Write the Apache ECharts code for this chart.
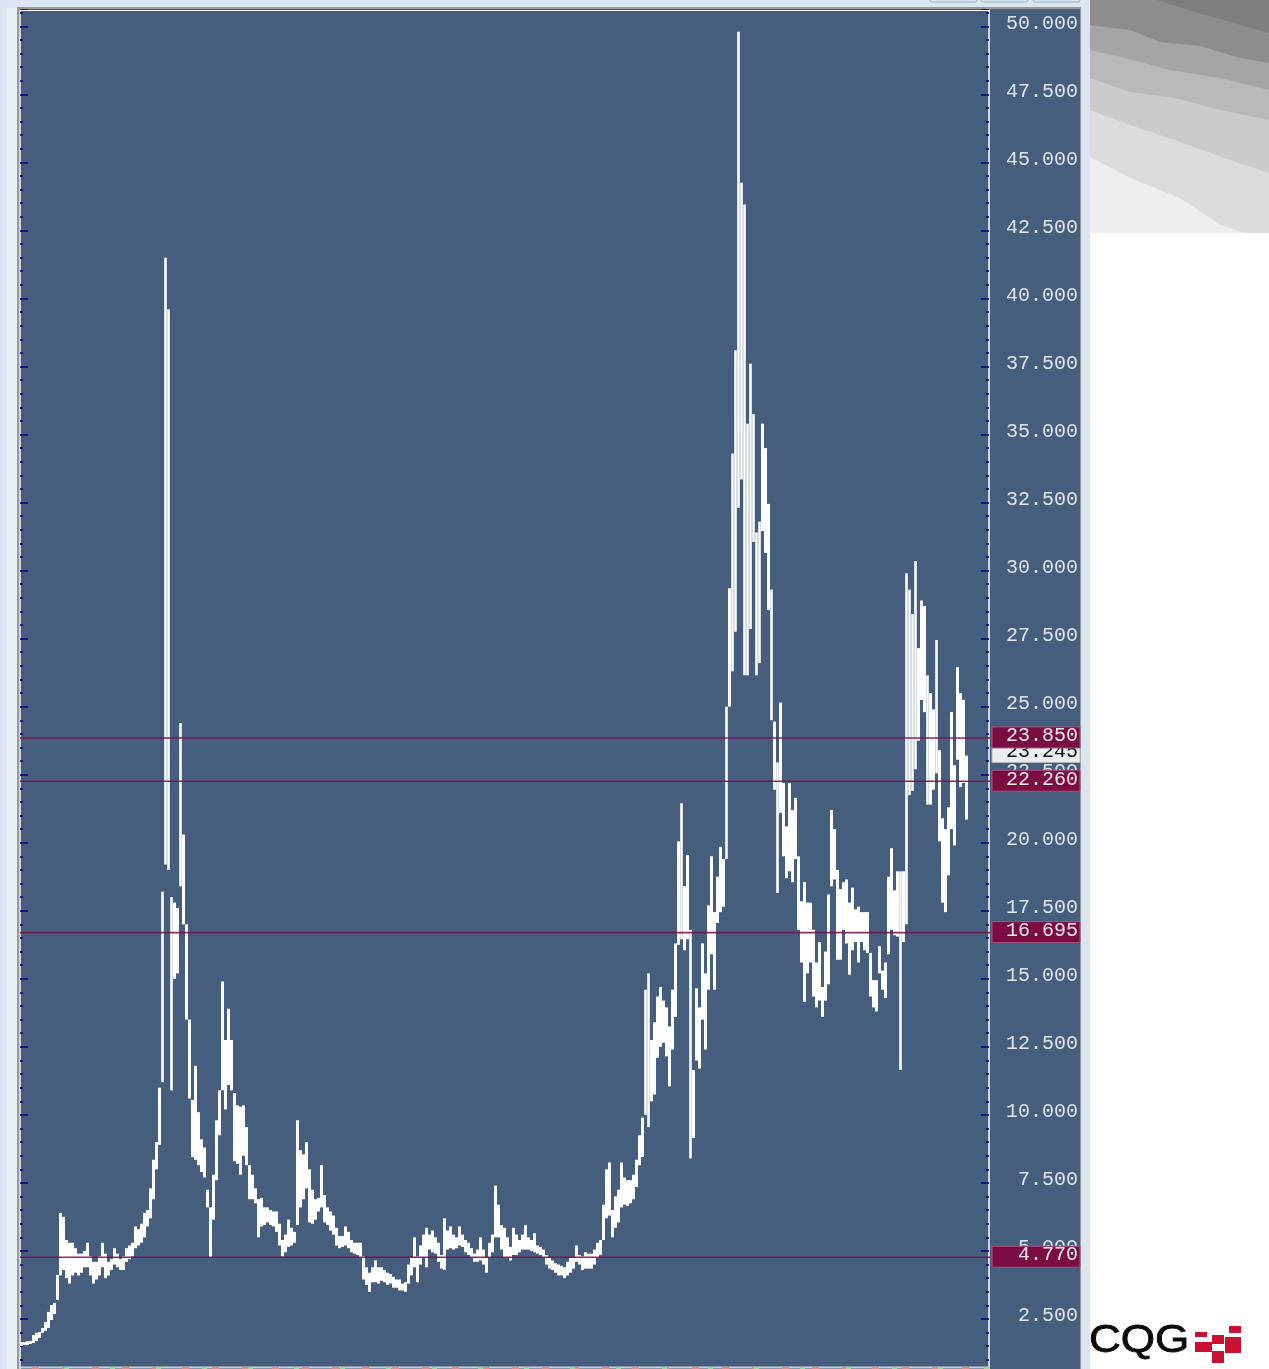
<!DOCTYPE html>
<html>
<head>
<meta charset="utf-8">
<script src="https://cdn.jsdelivr.net/npm/echarts@6/dist/echarts.min.js"></script>
<style>html,body{margin:0;padding:0;background:#fff;overflow:hidden}#c{width:1269px;height:1369px}</style>
</head>
<body>
<div id="c"></div>
<script>
const highs = [
1.65,1.65,1.69,1.69,1.91,1.99,2.02,2.17,2.39,2.76,3.01,3.09,4.12,6.4,6.25,5.4,5.3,5.3,5.1,4.9,4.9,5.0,5.3,4.8,4.6,4.6,4.8,5.3,4.9,4.6,4.7,5.1,4.9,4.7,4.8,5.1,5.2,5.3,5.9,5.8,6.0,6.4,6.5,7.3,
8.35,9.0,11.0,18.2,41.5,39.6,18.0,17.8,17.6,24.4,20.3,17.0,13.5,10.55,11.8,10.1,9.1,8.8,7.25,6.6,7.8,9.8,10.9,14.9,12.75,13.9,12.75,10.8,
10.35,10.3,10.35,9.55,8.15,7.8,7.3,6.9,6.95,6.6,6.6,6.5,6.45,6.45,6.0,5.4,5.6,6.15,5.85,5.7,9.8,8.7,8.55,9.0,8.0,7.25,6.9,6.95,8.15,7.05,6.6,6.45,6.3,5.85,5.55,5.55,5.9,5.7,5.4,5.3,5.3,5.3,4.8,4.4,4.2,4.4,4.65,4.4,4.4,4.3,4.2,4.15,4.05,3.95,3.95,3.8,3.85,4.5,
4.75,5.5,4.8,5.2,5.6,5.85,5.6,5.75,5.5,5.3,4.85,6.2,5.75,5.9,5.6,5.5,5.9,5.6,5.4,5.3,5.1,4.9,5.05,5.5,5.05,4.75,5.3,5.6,7.4,6.7,5.95,5.85,5.5,5.15,5.85,5.6,5.4,5.6,5.95,5.5,5.4,5.65,5.2,5.15,5.05,4.85,4.75,4.65,4.55,4.5,4.45,4.4,4.6,4.75,4.75,5.2,4.85,4.8,4.95,4.9,4.9,5.05,5.3,5.4,6.7,8.0,8.25,6.5,7.0,7.25,8.25,7.7,7.6,7.6,7.8,8.35,9.25,
9.9,14.6,15.2,12.75,13.4,14.35,14.7,14.2,13.95,13.25,14.6,16.3,20.05,21.45,18.4,19.55,16.8,11.65,14.65,13.95,16.3,15.2,17.7,19.5,17.45,18.75,19.85,19.4,25.0,
29.35,34.3,38.1,49.8,44.25,43.45,35.4,37.6,35.75,31.4,31.8,35.4,34.5,32.45,29.3,
24.45,22.95,25.15,22.2,20.6,22.2,21.2,21.65,19.5,17.85,18.55,17.8,17.8,16.8,15.6,16.35,14.7,16.0,18.1,21.2,20.5,19.0,18.3,18.55,18.65,17.8,18.35,17.55,17.65,17.45,17.45,17.45,15.95,14.95,14.95,16.2,15.3,15.6,18.75,19.8,18.25,18.95,18.95,
18.95,29.9,29.3,28.4,30.35,27.15,28.9,28.7,26.15,25.5,24.9,27.45,23.4,20.9,20.5,21.3,24.8,22.85,26.45,25.5,25.25,23.2
];
const lows = [
1.51,1.54,1.54,1.58,1.62,1.69,1.8,1.99,2.06,2.17,2.46,2.68,3.2,4.1,4.3,4.0,3.8,4.1,4.2,4.1,4.2,4.4,4.4,4.1,3.8,3.95,4.1,4.4,4.0,4.1,4.3,4.5,4.4,4.3,4.3,4.6,4.7,4.8,5.1,5.2,5.3,5.5,5.9,6.2,
6.9,8.0,8.9,11.2,19.2,19.0,10.9,15.0,15.2,18.4,17.0,13.5,10.6,8.45,8.35,8.15,7.9,7.7,6.6,4.77,6.15,7.6,9.25,10.9,10.2,11.1,10.9,8.3,
8.2,7.8,8.5,8.15,6.9,6.9,6.75,5.5,5.9,5.95,6.05,5.95,5.9,5.7,5.2,4.8,4.95,5.15,5.2,5.3,5.95,6.6,6.9,7.3,6.05,6.0,6.15,6.45,6.6,6.05,5.95,5.75,5.6,5.2,5.1,5.15,5.2,5.1,4.95,4.9,4.85,4.75,3.95,3.75,3.5,3.85,3.85,3.8,3.9,3.85,3.75,3.8,3.65,3.65,3.55,3.55,3.5,3.8,
4.1,4.4,3.85,4.5,4.75,4.4,5.05,4.95,4.9,4.6,4.35,4.3,5.05,5.1,5.05,5.1,5.2,5.15,4.95,4.85,4.75,4.6,4.6,4.65,4.5,4.2,4.75,4.95,5.5,5.5,5.05,4.75,4.75,4.65,4.85,4.85,4.95,5.05,5.05,5.05,5.0,4.95,4.9,4.85,4.75,4.5,4.35,4.3,4.2,4.1,4.1,4.0,4.1,4.2,4.35,4.6,4.5,4.3,4.35,4.35,4.35,4.5,4.75,4.85,5.4,6.2,6.3,5.5,5.85,6.05,6.6,6.7,6.65,6.75,6.9,7.35,8.15,
8.45,10.0,9.55,10.5,10.75,12.1,12.5,12.65,12.15,11.05,12.4,13.6,16.25,16.45,16.05,16.45,8.4,9.15,12.0,11.7,13.5,12.4,14.6,15.9,14.6,17.05,17.45,17.65,19.4,
25.0,26.3,27.75,32.3,33.35,26.15,26.15,27.85,31.05,26.15,26.6,31.45,30.65,28.55,24.5,
21.95,18.15,21.1,19.5,18.7,18.95,18.55,19.4,16.8,15.6,14.15,15.2,15.6,14.35,13.95,14.2,13.6,14.2,14.8,18.4,18.65,15.7,15.7,16.8,16.3,15.15,16.05,16.35,15.6,16.35,16.05,15.95,14.35,13.95,13.8,15.2,14.6,14.3,15.9,16.8,16.6,16.55,11.65,
16.35,17.0,21.75,21.9,22.7,23.75,25.25,24.8,21.4,21.4,21.95,22.55,20.05,17.8,17.45,18.8,20.5,19.9,23.05,22.05,22.2,20.85
];
const levels = [4.77, 16.695, 22.26, 23.85];
const lastPrice = 23.245;
const slotCount = 323;

const categories = [];
for (let i = 0; i < slotCount; i++) categories.push(String(i));

const bandPolys = [
  ['#7e7e7e', [[1157,0],[1269,0],[1269,33],[1230,22],[1195,12]]],
  ['#a5a5a5', [[1090,25],[1130,30],[1160,42],[1200,46],[1240,58],[1269,63],[1269,233],[1090,233]]],
  ['#b9b9b9', [[1090,50],[1125,58],[1170,70],[1220,78],[1269,90],[1269,233],[1090,233]]],
  ['#cbcbcb', [[1090,78],[1130,92],[1175,98],[1220,110],[1269,120],[1269,233],[1090,233]]],
  ['#dcdcdc', [[1090,110],[1130,125],[1180,142],[1230,160],[1269,173],[1269,233],[1090,233]]],
  ['#eeeeee', [[1090,157],[1130,178],[1180,198],[1220,225],[1245,233],[1090,233]]]
];
const logoRects = [[1195,1332,12,5],[1195,1342,17,10],[1212,1335,12,9],[1212,1351,12,12],[1229,1326,12,7],[1225,1337,16,16]];

const graphics = [
  {type:'rect',shape:{x:0,y:0,width:7,height:1369},style:{fill:'#d9e5f1'},z:-20},
  {type:'rect',shape:{x:7,y:0,width:10,height:1369},style:{fill:'#e9f0f7'},z:-20},
  {type:'rect',shape:{x:7,y:0,width:1083,height:8},style:{fill:'#dbe6f2'},z:-20},
  {type:'rect',shape:{x:1081,y:0,width:9,height:1369},style:{fill:'#d9e5f1'},z:-20},
  {type:'rect',shape:{x:17,y:7,width:1064,height:1362},style:{fill:'#9a9a9a'},z:-19},
  {type:'rect',shape:{x:19,y:9,width:1061,height:1360},style:{fill:'#465e7d'},z:-18},
  {type:'rect',shape:{x:930,y:-4,width:47,height:6,r:2},style:{fill:'#dde5ee',stroke:'#9fb0c2'},z:-17},
  {type:'rect',shape:{x:981,y:-4,width:47,height:6,r:2},style:{fill:'#dde5ee',stroke:'#9fb0c2'},z:-17},
  {type:'rect',shape:{x:1033,y:-4,width:47,height:6,r:2},style:{fill:'#dde5ee',stroke:'#9fb0c2'},z:-17},
  {type:'line',shape:{x1:20,y1:10.5,x2:990,y2:10.5},style:{stroke:'#ffffff',lineWidth:1},z:3},
  {type:'line',shape:{x1:20,y1:1367.5,x2:990,y2:1367.5},style:{stroke:'#c9d0d8',lineWidth:2},z:3},
  {type:'line',shape:{x1:32,y1:1368,x2:990,y2:1368},style:{stroke:'#f08a80',lineWidth:2,lineDash:[7,23]},z:4},
  {type:'line',shape:{x1:64,y1:1368,x2:990,y2:1368},style:{stroke:'#8fe58f',lineWidth:2,lineDash:[5,41]},z:4},
  {type:'text',x:1089,y:1342,scaleX:1.16,style:{text:'CQG',fill:'#0a0a0a',stroke:'#0a0a0a',lineWidth:0.8,font:'38px "Liberation Sans"',textVerticalAlign:'middle',textAlign:'left'},z:5}
];
bandPolys.forEach(p => graphics.push({type:'polygon',shape:{points:p[1]},style:{fill:p[0]},z:-10}));
graphics.unshift({type:'rect',shape:{x:1090,y:0,width:179,height:233},style:{fill:'#8d8d8d'},z:-11});
logoRects.forEach(r => graphics.push({type:'rect',shape:{x:r[0],y:r[1],width:r[2],height:r[3]},style:{fill:'#c8122f'},z:5}));

const yCommon = {
  type:'value', min:0, max:50.6, interval:2.5,
  splitLine:{show:false},
  axisLine:{show:true,onZero:false,lineStyle:{color:'#ffffff',width:1.5}},
  axisTick:{show:true,inside:true,length:8,lineStyle:{color:'#00008b',width:1.5}},
  minorTick:{show:true,splitNumber:5,length:3,lineStyle:{color:'#00008b',width:1.5}}
};

const chart = echarts.init(document.getElementById('c'), null, {renderer:'canvas',width:1269,height:1369});
chart.setOption({
  animation:false,
  backgroundColor:'#ffffff',
  graphic:graphics,
  grid:{left:20,top:10,width:969,height:1377,containLabel:false,outerBoundsMode:'none'},
  xAxis:{type:'category',data:categories,show:false,boundaryGap:true},
  yAxis:[
    Object.assign({},yCommon,{
      position:'right',
      axisLabel:{show:true,showMaxLabel:false,showMinLabel:false,inside:false,align:'right',margin:89,
        color:'#dfe5ec',fontFamily:'"Liberation Mono"',fontSize:20,verticalAlign:'bottom',lineHeight:6,
        formatter:v=>v.toFixed(3)}
    }),
    Object.assign({},yCommon,{position:'left',axisLabel:{show:false}})
  ],
  series:[
    {
      type:'custom', clip:true, z:3,
      data:highs.map((h,i)=>[i,h,lows[i]]),
      encode:{x:0,y:[1,2]},
      renderItem:(params,api)=>{
        const a = api.coord([api.value(0),api.value(1)]);
        const b = api.coord([api.value(0),api.value(2)]);
        const w = (b[1]-a[1] > 120) ? 2.6 : 3;
        return {type:'rect',shape:{x:a[0]-w/2,y:a[1],width:w,height:Math.max(b[1]-a[1],1)},style:{fill:'#ffffff'}};
      }
    },
    {
      type:'custom', clip:false, z:8,
      data:[[0,lastPrice]],
      encode:{y:1},
      renderItem:(params,api)=>{
        const y = api.coord([0,api.value(1)])[1];
        return {type:'group',children:[
          {type:'rect',shape:{x:992,y:y-8,width:88,height:16},style:{fill:'#e9eef3',stroke:'#b8b8b8',lineWidth:1}},
          {type:'text',x:1078,y:y-3,style:{text:api.value(1).toFixed(3),fill:'#111111',font:'20px "Liberation Mono"',textAlign:'right',textVerticalAlign:'middle'}}
        ]};
      }
    },
    {
      type:'custom', clip:false, z:9,
      data:levels.map((v,i)=>[i,v]),
      encode:{y:1},
      renderItem:(params,api)=>{
        const y = api.coord([0,api.value(1)])[1];
        return {type:'group',children:[
          {type:'line',shape:{x1:20,y1:y,x2:990,y2:y},style:{stroke:'#7b0f4d',lineWidth:1.6,opacity:0.88}},
          {type:'rect',shape:{x:992,y:y-11,width:88,height:21},style:{fill:'#7a0c42',stroke:'#a8527a',lineWidth:1}},
          {type:'text',x:1078,y:y-2,style:{text:api.value(1).toFixed(3),fill:'#f0e6ec',font:'20px "Liberation Mono"',textAlign:'right',textVerticalAlign:'middle'}}
        ]};
      }
    }
  ]
});
</script>
</body>
</html>
